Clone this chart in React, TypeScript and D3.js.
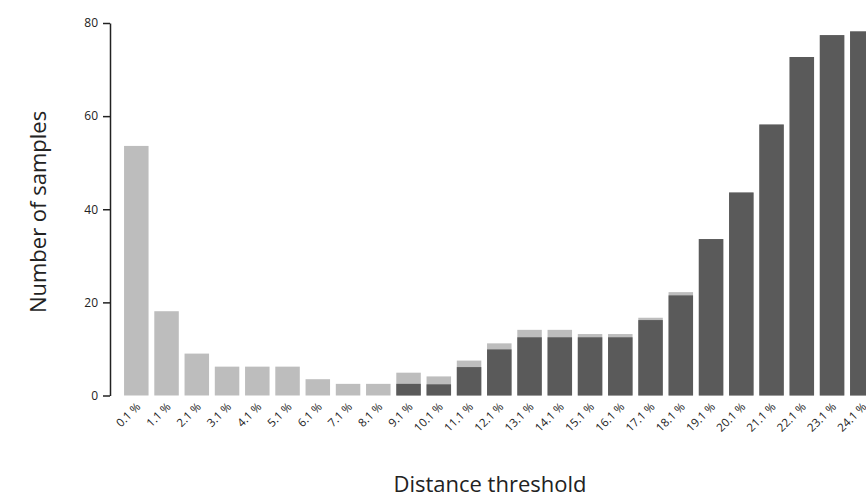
import React, { useEffect, useRef } from 'react';
import * as d3 from 'd3';

// distance thresholds (x categories)
const thresholds = ['0.1', '1.1', '2.1', '3.1', '4.1', '5.1', '6.1', '7.1', '8.1', '9.1', '10.1', '11.1', '12.1',
  '13.1', '14.1', '15.1', '16.1', '17.1', '18.1', '19.1', '20.1', '21.1', '22.1', '23.1', '24.1'];

// total height of each bar (light grey part on top)
const totalSamples = [53.6, 18.1, 9.0, 6.2, 6.2, 6.2, 3.5, 2.5, 2.5, 4.9, 4.1, 7.5, 11.2,
  14.1, 14.1, 13.2, 13.2, 16.7, 22.2, 33.6, 43.6, 58.2, 72.7, 77.4, 78.2];

// dark grey part at the bottom
const darkSamples = [0, 0, 0, 0, 0, 0, 0, 0, 0, 2.5, 2.4, 6.1, 9.9,
  12.5, 12.5, 12.5, 12.5, 16.2, 21.5, 33.6, 43.6, 58.2, 72.7, 77.4, 78.2];

const yTicks = [0, 20, 40, 60, 80];

const App = () => {
  const svgRef = useRef<SVGSVGElement>(null);

  useEffect(() => {
    const svg = d3.select(svgRef.current);
    svg.selectAll('*').remove();

    const x = d3.scaleBand()
      .domain(thresholds)
      .range([118, 880.6])
      .paddingInner(0.19)
      .paddingOuter(0.2);

    const y = d3.scaleLinear()
      .domain([0, 80])
      .range([395.5, 23]);

    // light bars (total)
    svg.append('g')
      .selectAll('rect')
      .data(thresholds)
      .join('rect')
      .attr('x', d => x(d)!)
      .attr('width', x.bandwidth())
      .attr('y', (d, i) => y(totalSamples[i]))
      .attr('height', (d, i) => y(0) - y(totalSamples[i]))
      .attr('fill', '#bdbdbd');

    // dark bars
    svg.append('g')
      .selectAll('rect')
      .data(thresholds)
      .join('rect')
      .attr('x', d => x(d)!)
      .attr('width', x.bandwidth())
      .attr('y', (d, i) => y(darkSamples[i]))
      .attr('height', (d, i) => y(0) - y(darkSamples[i]))
      .attr('fill', '#5a5a5a');

    // y axis
    const yAxis = svg.append('g')
      .attr('transform', 'translate(110,0)')
      .call(d3.axisLeft(y).tickValues(yTicks).tickSize(7).tickSizeOuter(0).tickPadding(5));
    yAxis.select('.domain').attr('stroke', '#222').attr('stroke-width', 1.5);
    yAxis.selectAll('.tick line').attr('stroke', '#222').attr('stroke-width', 1.5);
    yAxis.selectAll('.tick text')
      .attr('font-family', 'Open Sans')
      .attr('font-size', 12)
      .attr('fill', '#222');

    // x tick labels
    svg.append('g')
      .selectAll('text')
      .data(thresholds)
      .join('text')
      .attr('transform', d => `translate(${x(d)! + x.bandwidth() / 2 + 5},${y(0) + 12}) rotate(-45)`)
      .attr('text-anchor', 'end')
      .attr('font-family', 'Open Sans')
      .attr('font-size', 11.5)
      .attr('fill', '#222')
      .text(d => d + ' %');

    // axis titles
    svg.append('text')
      .attr('transform', 'translate(46,212) rotate(-90)')
      .attr('text-anchor', 'middle')
      .attr('font-family', 'Open Sans')
      .attr('font-size', 22)
      .attr('fill', '#222')
      .text('Number of samples');

    svg.append('text')
      .attr('x', 490)
      .attr('y', 492)
      .attr('text-anchor', 'middle')
      .attr('font-family', 'Open Sans')
      .attr('font-size', 22)
      .attr('fill', '#222')
      .text('Distance threshold');
  }, []);

  return (
    <svg ref={svgRef} width={866} height={499}
      style={{ position: 'absolute', left: 0, top: 0, background: '#fff' }}></svg>
  );
};

export default App;
